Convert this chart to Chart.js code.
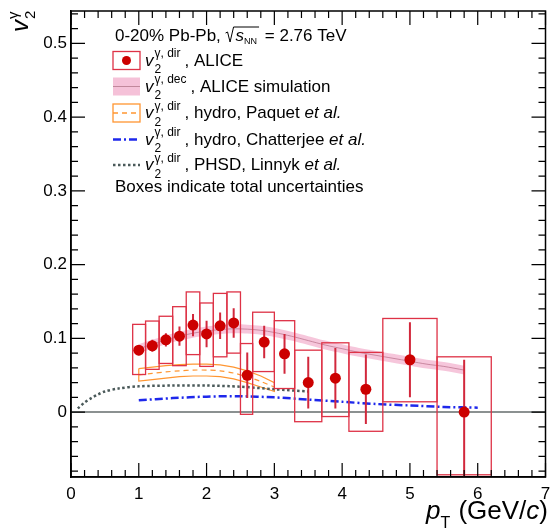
<!DOCTYPE html>
<html>
<head>
<meta charset="utf-8">
<script src="https://cdn.jsdelivr.net/npm/chart.js"></script>
<style>
  html, body { margin: 0; padding: 0; background: #fff; }
  #wrap { width: 551px; height: 532px; }
</style>
</head>
<body>
<div id="wrap"><canvas id="chart"></canvas></div>
<script>
// ALICE direct photon v2, 0-20% Pb-Pb
const alicePt = [1.0, 1.2, 1.4, 1.6, 1.8, 2.0, 2.2, 2.4, 2.6, 2.85, 3.15, 3.5, 3.9, 4.35, 5.0, 5.8];
const aliceV2 = [0.084, 0.090, 0.098, 0.103, 0.118, 0.106, 0.117, 0.121, 0.050, 0.095, 0.079, 0.040, 0.046, 0.031, 0.071, 0.000];
const aliceStatUp = [0.007, 0.008, 0.009, 0.013, 0.015, 0.018, 0.018, 0.020, 0.031, 0.022, 0.027, 0.035, 0.041, 0.047, 0.051, 0.071];
const aliceStatDown = [0.007, 0.008, 0.009, 0.013, 0.015, 0.018, 0.018, 0.020, 0.031, 0.022, 0.027, 0.035, 0.041, 0.047, 0.051, 0.090];
// total uncertainty boxes
const boxPtLo = [0.91, 1.10, 1.30, 1.50, 1.70, 1.90, 2.10, 2.30, 2.50, 2.68, 3.00, 3.30, 3.70, 4.10, 4.60, 5.40];
const boxPtHi = [1.10, 1.30, 1.50, 1.70, 1.90, 2.10, 2.30, 2.50, 2.68, 3.00, 3.30, 3.70, 4.10, 4.60, 5.40, 6.20];
const boxV2Lo = [0.051, 0.058, 0.066, 0.063, 0.078, 0.062, 0.075, 0.080, -0.003, 0.055, 0.032, -0.013, -0.006, -0.026, 0.014, -0.085];
const boxV2Hi = [0.119, 0.1235, 0.130, 0.143, 0.163, 0.148, 0.161, 0.163, 0.093, 0.1355, 0.124, 0.084, 0.094, 0.081, 0.127, 0.075];

// decay photon v2, ALICE simulation
const simPt = [1.0, 1.2, 1.4, 1.6, 1.8, 2.0, 2.2, 2.4, 2.6, 2.8, 3.0, 3.25, 3.5, 3.75, 4.0, 4.25, 4.5, 4.75, 5.0, 5.25, 5.5, 5.8];
const simV2 = [0.086, 0.092, 0.098, 0.103, 0.107, 0.110, 0.112, 0.113, 0.1125, 0.111, 0.108, 0.103, 0.097, 0.091, 0.086, 0.081, 0.077, 0.073, 0.069, 0.065, 0.062, 0.057];
const simV2Lo = [0.080, 0.086, 0.092, 0.097, 0.101, 0.104, 0.106, 0.107, 0.1065, 0.105, 0.102, 0.097, 0.091, 0.085, 0.080, 0.075, 0.071, 0.067, 0.063, 0.059, 0.056, 0.051];
const simV2Hi = [0.092, 0.098, 0.104, 0.109, 0.113, 0.116, 0.118, 0.119, 0.1185, 0.117, 0.114, 0.109, 0.103, 0.097, 0.092, 0.087, 0.083, 0.079, 0.075, 0.071, 0.068, 0.063];

// hydro, Paquet et al.
const paqPt = [1.0, 1.2, 1.4, 1.6, 1.8, 2.0, 2.2, 2.4, 2.6, 2.8, 3.0];
const paqHi = [0.059, 0.061, 0.063, 0.0645, 0.065, 0.065, 0.064, 0.061, 0.056, 0.049, 0.040];
const paqMid = [0.0505, 0.0525, 0.0545, 0.056, 0.057, 0.057, 0.056, 0.053, 0.048, 0.0415, 0.034];
const paqLo = [0.042, 0.044, 0.046, 0.048, 0.049, 0.049, 0.048, 0.045, 0.040, 0.034, 0.028];

// hydro, Chatterjee et al.
const chaPt = [1.0, 1.5, 2.0, 2.5, 3.0, 3.5, 4.0, 4.5, 5.0, 5.5, 6.0];
const chaV2 = [0.016, 0.019, 0.021, 0.0215, 0.020, 0.017, 0.014, 0.011, 0.009, 0.007, 0.006];

// PHSD, Linnyk et al.
const phsdPt = [0.1, 0.2, 0.3, 0.4, 0.5, 0.7, 1.0, 1.5, 2.0, 2.5, 3.0, 3.5];
const phsdV2 = [0.005, 0.013, 0.019, 0.024, 0.028, 0.032, 0.035, 0.036, 0.036, 0.0345, 0.031, 0.028];

const xTicks = [0, 1, 2, 3, 4, 5, 6, 7];
const yTicks = [0, 0.1, 0.2, 0.3, 0.4, 0.5];

const FONT = '"Liberation Sans", Arial, sans-serif';
const RED = '#cc0000';
const BOXRED = 'rgb(222, 50, 70)';
const ORANGE = 'rgb(255, 150, 50)';
const BLUE = 'rgb(30, 40, 235)';
const GREY = 'rgb(75, 90, 90)';

const pts = (xs, ys) => xs.map((x, i) => ({ x: x, y: ys[i] }));

// closed outline of the Paquet band
const paqOutline = pts(paqPt, paqHi)
  .concat(pts(paqPt, paqLo).reverse())
  .concat([{ x: paqPt[0], y: paqHi[0] }]);

function drawV2(ctx, x, y, sup, size, subSize) {
  ctx.font = 'italic ' + size + 'px ' + FONT;
  ctx.fillText('v', x, y);
  const w = ctx.measureText('v').width + 1;
  ctx.font = subSize + 'px ' + FONT;
  ctx.fillText('2', x + w, y + size * 0.45);
  ctx.fillText(sup, x + w, y - size * 0.5);
  return x + w + Math.max(ctx.measureText('2').width, ctx.measureText(sup).width);
}

const alicePlugin = {
  id: 'aliceExtras',
  beforeDatasetDraw(chart, args) {
    if (args.index !== chart.data.datasets.length - 1) return;
    const ctx = chart.ctx, xs = chart.scales.x, ys = chart.scales.y, a = chart.chartArea;
    ctx.save();
    ctx.beginPath();
    ctx.rect(a.left, a.top, a.right - a.left, a.bottom - a.top);
    ctx.clip();
    ctx.strokeStyle = BOXRED;
    ctx.lineWidth = 1.3;
    for (let i = 0; i < alicePt.length; i++) {
      const x0 = xs.getPixelForValue(boxPtLo[i]), x1 = xs.getPixelForValue(boxPtHi[i]);
      const y0 = ys.getPixelForValue(boxV2Hi[i]), y1 = ys.getPixelForValue(boxV2Lo[i]);
      ctx.strokeRect(x0, y0, x1 - x0, y1 - y0);
    }
    ctx.strokeStyle = 'rgb(210, 40, 60)';
    ctx.lineWidth = 2;
    for (let i = 0; i < alicePt.length; i++) {
      const px = xs.getPixelForValue(alicePt[i]);
      ctx.beginPath();
      ctx.moveTo(px, ys.getPixelForValue(aliceV2[i] + aliceStatUp[i]));
      ctx.lineTo(px, ys.getPixelForValue(aliceV2[i] - aliceStatDown[i]));
      ctx.stroke();
    }
    ctx.restore();
  },
  afterDraw(chart) {
    const ctx = chart.ctx, xs = chart.scales.x, ys = chart.scales.y, a = chart.chartArea;
    ctx.save();
    // frame top/right
    ctx.strokeStyle = '#000';
    ctx.lineWidth = 1.5;
    ctx.strokeRect(a.left, a.top, a.right - a.left, a.bottom - a.top);
    // ticks on all four sides
    ctx.lineWidth = 1.2;
    ctx.beginPath();
    for (let k = 0; k <= 35; k++) {
      const v = k * 0.2;
      const len = k % 5 === 0 ? 14 : 7;
      const px = xs.getPixelForValue(v);
      ctx.moveTo(px, a.bottom); ctx.lineTo(px, a.bottom - len);
      ctx.moveTo(px, a.top); ctx.lineTo(px, a.top + len);
    }
    for (let k = -4; k <= 27; k++) {
      const v = k * 0.02;
      const len = k % 5 === 0 ? 14 : 7;
      const py = ys.getPixelForValue(v);
      ctx.moveTo(a.left, py); ctx.lineTo(a.left + len, py);
      ctx.moveTo(a.right, py); ctx.lineTo(a.right - len, py);
    }
    ctx.stroke();

    ctx.fillStyle = '#000';
    ctx.textBaseline = 'alphabetic';
    ctx.textAlign = 'left';

    // y title
    ctx.save();
    ctx.translate(28, 32);
    ctx.rotate(-Math.PI / 2);
    ctx.font = 'italic 24px ' + FONT;
    ctx.fillText('v', 0, 0);
    const vw = ctx.measureText('v').width;
    ctx.font = '15px ' + FONT;
    ctx.fillText('2', vw + 1, 7);
    ctx.fillText('\u03b3', vw + 1, -10);
    ctx.restore();

    // x title
    const XS = 26, XSUB = 16;
    ctx.font = 'italic ' + XS + 'px ' + FONT;
    const wP = ctx.measureText('p').width;
    ctx.font = XSUB + 'px ' + FONT;
    const wT = ctx.measureText('T').width;
    ctx.font = XS + 'px ' + FONT;
    const wA = ctx.measureText(' (GeV/').width;
    const wB = ctx.measureText(')').width;
    ctx.font = 'italic ' + XS + 'px ' + FONT;
    const wC = ctx.measureText('c').width;
    let tx = 548 - (wP + wT + 1 + wA + wC + wB);
    const tb = 519;
    ctx.font = 'italic ' + XS + 'px ' + FONT;
    ctx.fillText('p', tx, tb); tx += wP;
    ctx.font = XSUB + 'px ' + FONT;
    ctx.fillText('T', tx, tb + 9); tx += wT + 1;
    ctx.font = XS + 'px ' + FONT;
    ctx.fillText(' (GeV/', tx, tb); tx += wA;
    ctx.font = 'italic ' + XS + 'px ' + FONT;
    ctx.fillText('c', tx, tb); tx += wC;
    ctx.font = XS + 'px ' + FONT;
    ctx.fillText(')', tx, tb);

    // legend header
    const lx = 115;
    ctx.font = '17px ' + FONT;
    let hx = lx;
    ctx.fillText('0-20% Pb-Pb, ', hx, 41);
    hx += ctx.measureText('0-20% Pb-Pb, ').width;
    ctx.font = 'italic 17px ' + FONT;
    const wS = ctx.measureText('s').width;
    ctx.font = '9px ' + FONT;
    const wNN = ctx.measureText('NN').width;
    ctx.strokeStyle = '#000';
    ctx.lineWidth = 1;
    ctx.beginPath();
    ctx.moveTo(hx, 33); ctx.lineTo(hx + 2, 32);
    ctx.lineTo(hx + 4.5, 42);
    ctx.lineTo(hx + 8, 27);
    ctx.lineTo(hx + 10 + wS + wNN + 2, 27);
    ctx.stroke();
    ctx.font = 'italic 17px ' + FONT;
    ctx.fillText('s', hx + 10, 41);
    ctx.font = '9px ' + FONT;
    ctx.fillText('NN', hx + 10 + wS, 44);
    hx += 10 + wS + wNN + 3;
    ctx.font = '17px ' + FONT;
    ctx.fillText(' = 2.76 TeV', hx, 41);

    // legend entries
    const sx0 = 113, sx1 = 140;
    const rows = [
      { y: 60.5, sup: '\u03b3, dir', text: ', ALICE', italic: '' },
      { y: 86.5, sup: '\u03b3, dec', text: ', ALICE simulation', italic: '' },
      { y: 113, sup: '\u03b3, dir', text: ', hydro, Paquet ', italic: 'et al.' },
      { y: 139.5, sup: '\u03b3, dir', text: ', hydro, Chatterjee ', italic: 'et al.' },
      { y: 165, sup: '\u03b3, dir', text: ', PHSD, Linnyk ', italic: 'et al.' }
    ];
    // symbols
    ctx.strokeStyle = BOXRED; ctx.lineWidth = 1.3;
    ctx.strokeRect(sx0, rows[0].y - 9, sx1 - sx0, 18);
    ctx.fillStyle = RED;
    ctx.beginPath(); ctx.arc((sx0 + sx1) / 2, rows[0].y, 4.5, 0, 2 * Math.PI); ctx.fill();
    ctx.fillStyle = 'rgba(240, 160, 195, 0.65)';
    ctx.fillRect(sx0, rows[1].y - 9, sx1 - sx0, 18);
    ctx.strokeStyle = 'rgba(180, 120, 140, 0.8)'; ctx.lineWidth = 1;
    ctx.beginPath(); ctx.moveTo(sx0, rows[1].y); ctx.lineTo(sx1, rows[1].y); ctx.stroke();
    ctx.strokeStyle = ORANGE; ctx.lineWidth = 1.3;
    ctx.strokeRect(sx0, rows[2].y - 9, sx1 - sx0, 18);
    ctx.setLineDash([5, 4]);
    ctx.beginPath(); ctx.moveTo(sx0, rows[2].y); ctx.lineTo(sx1, rows[2].y); ctx.stroke();
    ctx.strokeStyle = BLUE; ctx.lineWidth = 2.5; ctx.setLineDash([8, 3, 2, 3]);
    ctx.beginPath(); ctx.moveTo(sx0, rows[3].y); ctx.lineTo(sx1, rows[3].y); ctx.stroke();
    ctx.strokeStyle = GREY; ctx.setLineDash([2.5, 2.5]);
    ctx.beginPath(); ctx.moveTo(sx0, rows[4].y); ctx.lineTo(sx1, rows[4].y); ctx.stroke();
    ctx.setLineDash([]);
    // texts
    ctx.fillStyle = '#000';
    rows.forEach(r => {
      const base = r.y + 5;
      let x = drawV2(ctx, 145, base, r.sup, 17, 12);
      ctx.font = '17px ' + FONT;
      ctx.fillText(r.text, x + 4, base);
      x += 4 + ctx.measureText(r.text).width;
      if (r.italic) {
        ctx.font = 'italic 17px ' + FONT;
        ctx.fillText(r.italic, x, base);
      }
    });
    ctx.font = '17px ' + FONT;
    ctx.fillText('Boxes indicate total uncertainties', lx, 192);
    ctx.restore();
  }
};

const lineDs = (data, color, width, dash, order, extra) => Object.assign({
  data: data,
  showLine: true,
  borderColor: color,
  borderWidth: width,
  borderDash: dash,
  pointRadius: 0,
  fill: false,
  tension: 0.3,
  order: order
}, extra || {});

new Chart(document.getElementById('chart'), {
  type: 'scatter',
  data: {
    datasets: [
      lineDs([{ x: 0, y: 0 }, { x: 7, y: 0 }], 'rgb(100, 108, 108)', 1.5, [], 10),
      lineDs(pts(simPt, simV2Hi), 'rgba(0,0,0,0)', 0, [], 9, { fill: '+1', backgroundColor: 'rgba(240, 160, 195, 0.6)' }),
      lineDs(pts(simPt, simV2Lo), 'rgba(0,0,0,0)', 0, [], 8),
      lineDs(pts(simPt, simV2), 'rgba(190, 120, 145, 0.8)', 1, [], 7),
      lineDs(paqOutline, ORANGE, 1.2, [], 6, { tension: 0 }),
      lineDs(pts(paqPt, paqMid), ORANGE, 1.2, [5, 4], 5),
      lineDs(pts(phsdPt, phsdV2), GREY, 2.5, [2.5, 2.5], 4),
      lineDs(pts(chaPt, chaV2), BLUE, 2.5, [8, 3, 2, 3], 3),
      {
        data: pts(alicePt, aliceV2),
        showLine: false,
        pointRadius: 5.5,
        pointHoverRadius: 5.5,
        pointBackgroundColor: RED,
        pointBorderWidth: 0,
        order: 0
      }
    ]
  },
  options: {
    responsive: true,
    maintainAspectRatio: false,
    animation: false,
    layout: { padding: { top: 11, right: 3, left: 0, bottom: 0 } },
    plugins: {
      legend: { display: false },
      tooltip: { enabled: false }
    },
    scales: {
      x: {
        type: 'linear',
        min: 0,
        max: 7,
        afterBuildTicks: s => { s.ticks = xTicks.map(v => ({ value: v })); },
        afterFit: s => { s.height = 55; s.paddingLeft = 0; s.paddingRight = 0; },
        grid: { display: false, drawTicks: false },
        border: { display: true, color: '#000', width: 1.5 },
        ticks: { color: '#000', padding: 7, font: { family: FONT, size: 17 }, maxRotation: 0 }
      },
      y: {
        type: 'linear',
        min: -0.088,
        max: 0.544,
        afterBuildTicks: s => { s.ticks = yTicks.map(v => ({ value: v })); },
        afterFit: s => { s.width = 71; s.paddingTop = 0; s.paddingBottom = 0; },
        grid: { display: false, drawTicks: false },
        border: { display: true, color: '#000', width: 1.5 },
        ticks: { color: '#000', padding: 4, font: { family: FONT, size: 17 }, callback: v => String(Math.round(v * 10) / 10) }
      }
    }
  },
  plugins: [alicePlugin]
});
</script>
</body>
</html>
